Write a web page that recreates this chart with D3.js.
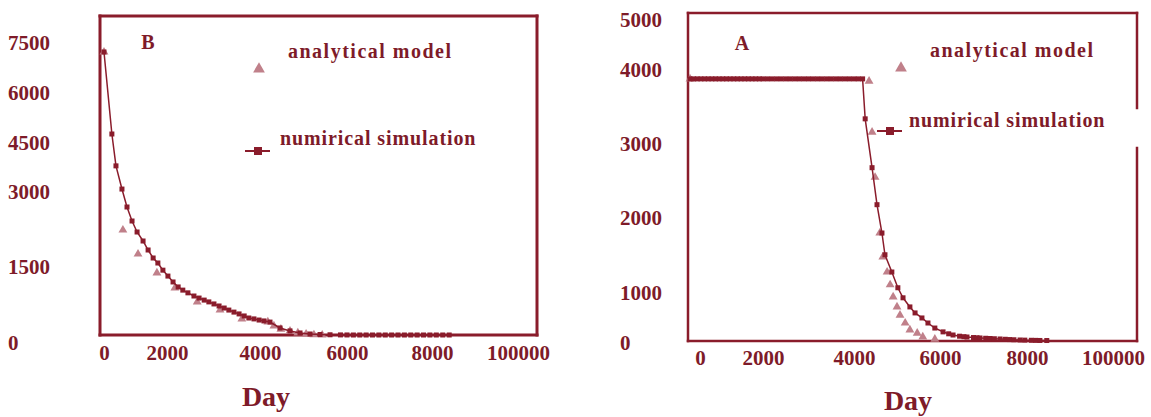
<!DOCTYPE html>
<html>
<head>
<meta charset="utf-8">
<script src="https://cdn.jsdelivr.net/npm/d3@7"></script>
<style>
  body { margin: 0; background: #fff; }
  svg { display: block; }
  text { font-family: "Liberation Serif", "Times New Roman", serif; font-weight: bold; }
</style>
</head>
<body>
<svg id="chart" width="1151" height="417"></svg>
<script>
// tick values and labels (the last label is printed as "100000" in the source figure)
const xTicks = [0, 2000, 4000, 6000, 8000, 10000];
const xTickLabels = ['0', '2000', '4000', '6000', '8000', '100000'];
const yTicksB = [0, 1500, 3000, 4500, 6000, 7500];
const yTicksA = [0, 1000, 2000, 3000, 4000, 5000];

// panel B - numerical simulation
const numDaysB = [0, 250, 380, 570, 730, 890, 1050, 1240, 1400, 1560,
    1710, 1870, 2020, 2130, 2240, 2340, 2450, 2580, 2690, 2800,
    2900, 3010, 3120, 3230, 3330, 3440, 3550, 3660, 3760, 3870,
    3980, 4090, 4230, 4460, 4690, 4920, 5150, 5380, 5610,
    5850, 6000, 6150, 6300, 6450, 6600, 6750, 6900, 7050, 7200,
    7350, 7500, 7650, 7800, 7950, 8100, 8250, 8400];
const numValsB = [7230, 4770, 3800, 3090, 2700, 2420, 2200, 2020, 1840, 1680,
    1580, 1430, 1300, 1170, 1060, 990, 930, 860, 815, 770,
    730, 685, 640, 595, 550, 505, 465, 420, 375, 355,
    330, 310, 285, 155, 90, 45, 22, 11, 5,
    2, 1, 0, 0, 0, 0, 0, 0, 0, 0,
    0, 0, 0, 0, 0, 0, 0, 0];

// panel B - analytical model
const anaDaysB = [0, 600, 1080, 1680, 2170, 2650, 3140, 3610, 4180, 4320, 4480, 4690, 4870, 5060, 5240, 5430];
const anaValsB = [7230, 2240, 1760, 1370, 1040, 730, 550, 355, 290, 200, 130, 88, 45, 22, 5, 0];

// panel A - numerical simulation
const numDaysA = [0, 100, 200, 300, 400, 500, 600, 700, 800, 900,
    1000, 1100, 1200, 1300, 1400, 1500, 1600, 1700, 1800, 1900,
    2000, 2100, 2200, 2300, 2400, 2500, 2600, 2700, 2800, 2900,
    3000, 3100, 3200, 3300, 3400, 3500, 3600, 3700, 3800, 3900,
    4000, 4100, 4200,
    4260, 4420, 4535, 4650, 4720, 4880, 5020, 5140, 5300, 5420,
    5580, 5720, 5880, 6070, 6200, 6300, 6450, 6550, 6620, 6770,
    6850, 6920, 7050, 7150, 7250, 7380, 7500, 7600, 7700, 7840,
    7950, 8100, 8200, 8300, 8460];
const numValsA = [3880, 3880, 3880, 3880, 3880, 3880, 3880, 3880, 3880, 3880,
    3880, 3880, 3880, 3880, 3880, 3880, 3880, 3880, 3880, 3880,
    3880, 3880, 3880, 3880, 3880, 3880, 3880, 3880, 3880, 3880,
    3880, 3880, 3880, 3880, 3880, 3880, 3880, 3880, 3880, 3880,
    3880, 3880, 3880,
    3340, 2680, 2180, 1800, 1510, 1280, 1070, 900, 710, 585,
    480, 375, 270, 190, 150, 125, 100, 90, 83, 72,
    67, 63, 57, 52, 47, 42, 36, 30, 26, 21,
    18, 15, 13, 11, 10];

// panel A - analytical model
const anaDaysA = [0, 4350, 4420, 4490, 4600, 4670, 4770, 4840, 4910, 5000, 5070, 5190, 5300, 5470, 5600, 5880];
const anaValsA = [3880, 3850, 3160, 2550, 1800, 1480, 1280, 1110, 920, 710, 540, 375, 230, 165, 85, 40];

const dark = '#8a1c2b';
const textColor = '#7e1b29';
const light = '#c0808a';

const svg = d3.select('#chart');

function drawPanel(p) {
    const g = svg.append('g');

    // piecewise scales: the source figure spaces its ticks unevenly
    const x = d3.scaleLinear().domain(xTicks).range(p.xRange);
    const y = d3.scaleLinear().domain(p.yTicks).range(p.yRange);

    // frame
    const f = p.frame;
    const segs = [
        [f.l, f.t, f.r, f.t],
        [f.l, f.t, f.l, f.b],
        [f.l, f.b, f.r, f.b]
    ];
    if (p.rightGap) {
        segs.push([f.r, f.t, f.r, p.rightGap[0]]);
        segs.push([f.r, p.rightGap[1], f.r, f.b]);
    } else {
        segs.push([f.r, f.t, f.r, f.b]);
    }
    g.selectAll('line.frame')
        .data(segs)
        .enter()
        .append('line')
            .attr('class', 'frame')
            .attr('x1', d => d[0]).attr('y1', d => d[1])
            .attr('x2', d => d[2]).attr('y2', d => d[3])
            .attr('stroke', dark)
            .attr('stroke-width', p.frameWidth)
            .attr('stroke-linecap', 'square');

    // y tick labels (left aligned in the source)
    g.selectAll('text.ytick')
        .data(p.yTicks)
        .enter()
        .append('text')
            .attr('class', 'ytick')
            .attr('x', p.yLabelX)
            .attr('y', d => y(d) + (d === 0 ? p.zeroDy : 0))
            .attr('dy', '0.35em')
            .attr('font-size', 21)
            .attr('fill', textColor)
            .text(d => d);

    // x axis labels
    const xAxis = d3.axisBottom(x)
        .tickValues(xTicks)
        .tickSize(0)
        .tickPadding(0)
        .tickFormat((d, i) => xTickLabels[i]);

    const ax = g.append('g')
        .attr('transform', `translate(0, ${p.xLabelY})`)
        .call(xAxis);
    ax.select('.domain').remove();
    ax.selectAll('text')
        .attr('font-family', '"Liberation Serif", serif')
        .attr('font-weight', 'bold')
        .attr('font-size', 21)
        .attr('fill', textColor)
        .attr('dy', '0.35em')
        .attr('dx', d => d === 0 ? p.zeroDx : 0);

    // analytical model triangles
    const tri = d3.symbol().type(d3.symbolTriangle).size(34);
    const ana = p.anaDays.map((d, i) => [d, p.anaVals[i]]);
    g.selectAll('path.ana')
        .data(ana)
        .enter()
        .append('path')
            .attr('class', 'ana')
            .attr('d', tri)
            .attr('transform', d => `translate(${x(d[0])}, ${y(d[1])})`)
            .attr('fill', light);

    // numerical simulation line + square markers
    const num = p.numDays.map((d, i) => [d, p.numVals[i]]);
    const line = d3.line()
        .x(d => x(d[0]))
        .y(d => y(d[1]));

    g.append('path')
        .datum(num)
        .attr('d', line)
        .attr('fill', 'none')
        .attr('stroke', dark)
        .attr('stroke-width', 1.5);

    const m = p.markerSize;
    g.selectAll('rect.num')
        .data(num)
        .enter()
        .append('rect')
            .attr('class', 'num')
            .attr('x', d => x(d[0]) - m / 2)
            .attr('y', d => y(d[1]) - m / 2)
            .attr('width', m)
            .attr('height', m)
            .attr('fill', dark);

    // panel letter
    g.append('text')
        .attr('x', p.letter[0])
        .attr('y', p.letter[1])
        .attr('dy', '0.35em')
        .attr('text-anchor', 'middle')
        .attr('font-size', 20)
        .attr('fill', textColor)
        .text(p.name);

    // legend
    const lg = p.legend;
    g.append('path')
        .attr('d', d3.symbol().type(d3.symbolTriangle).size(60))
        .attr('transform', `translate(${lg.tri[0]}, ${lg.tri[1]})`)
        .attr('fill', light);
    g.append('text')
        .attr('x', lg.anaText[0])
        .attr('y', lg.anaText[1])
        .attr('font-size', 20)
        .attr('letter-spacing', 1.5)
        .attr('fill', textColor)
        .text('analytical model');

    g.append('line')
        .attr('x1', lg.num[0] - 13).attr('x2', lg.num[0] + 12)
        .attr('y1', lg.num[1]).attr('y2', lg.num[1])
        .attr('stroke', dark)
        .attr('stroke-width', 2);
    g.append('rect')
        .attr('x', lg.num[0] - 4).attr('y', lg.num[1] - 4)
        .attr('width', 8).attr('height', 8)
        .attr('fill', dark);
    g.append('text')
        .attr('x', lg.numText[0])
        .attr('y', lg.numText[1])
        .attr('font-size', 20)
        .attr('letter-spacing', 0.9)
        .attr('fill', textColor)
        .text('numirical simulation');

    // axis title
    g.append('text')
        .attr('x', p.dayLabel[0])
        .attr('y', p.dayLabel[1])
        .attr('text-anchor', 'middle')
        .attr('font-size', 28)
        .attr('fill', textColor)
        .text('Day');
}

drawPanel({
    name: 'B',
    xRange: [104, 167, 260, 347, 432, 518],
    yTicks: yTicksB,
    yRange: [335, 267, 192, 143, 93, 43],
    frame: { l: 100, t: 16, r: 537, b: 335 },
    frameWidth: 3,
    yLabelX: 8,
    zeroDy: 8,
    zeroDx: 0,
    xLabelY: 353,
    markerSize: 5,
    numDays: numDaysB, numVals: numValsB,
    anaDays: anaDaysB, anaVals: anaValsB,
    letter: [148, 42],
    legend: { tri: [259, 69], anaText: [288, 58], num: [258, 151], numText: [280, 145] },
    dayLabel: [266, 406]
});

drawPanel({
    name: 'A',
    xRange: [690, 763, 854, 940, 1027, 1113],
    yTicks: yTicksA,
    yRange: [341, 293, 218, 144, 70, 20],
    frame: { l: 688, t: 13, r: 1137, b: 341 },
    frameWidth: 2.5,
    rightGap: [108, 148],
    yLabelX: 620,
    zeroDy: 2,
    zeroDx: 10,
    xLabelY: 358,
    markerSize: 5,
    numDays: numDaysA, numVals: numValsA,
    anaDays: anaDaysA, anaVals: anaValsA,
    letter: [742, 43],
    legend: { tri: [901, 68], anaText: [930, 57], num: [890, 131], numText: [909, 127] },
    dayLabel: [908, 410]
});
</script>
</body>
</html>
